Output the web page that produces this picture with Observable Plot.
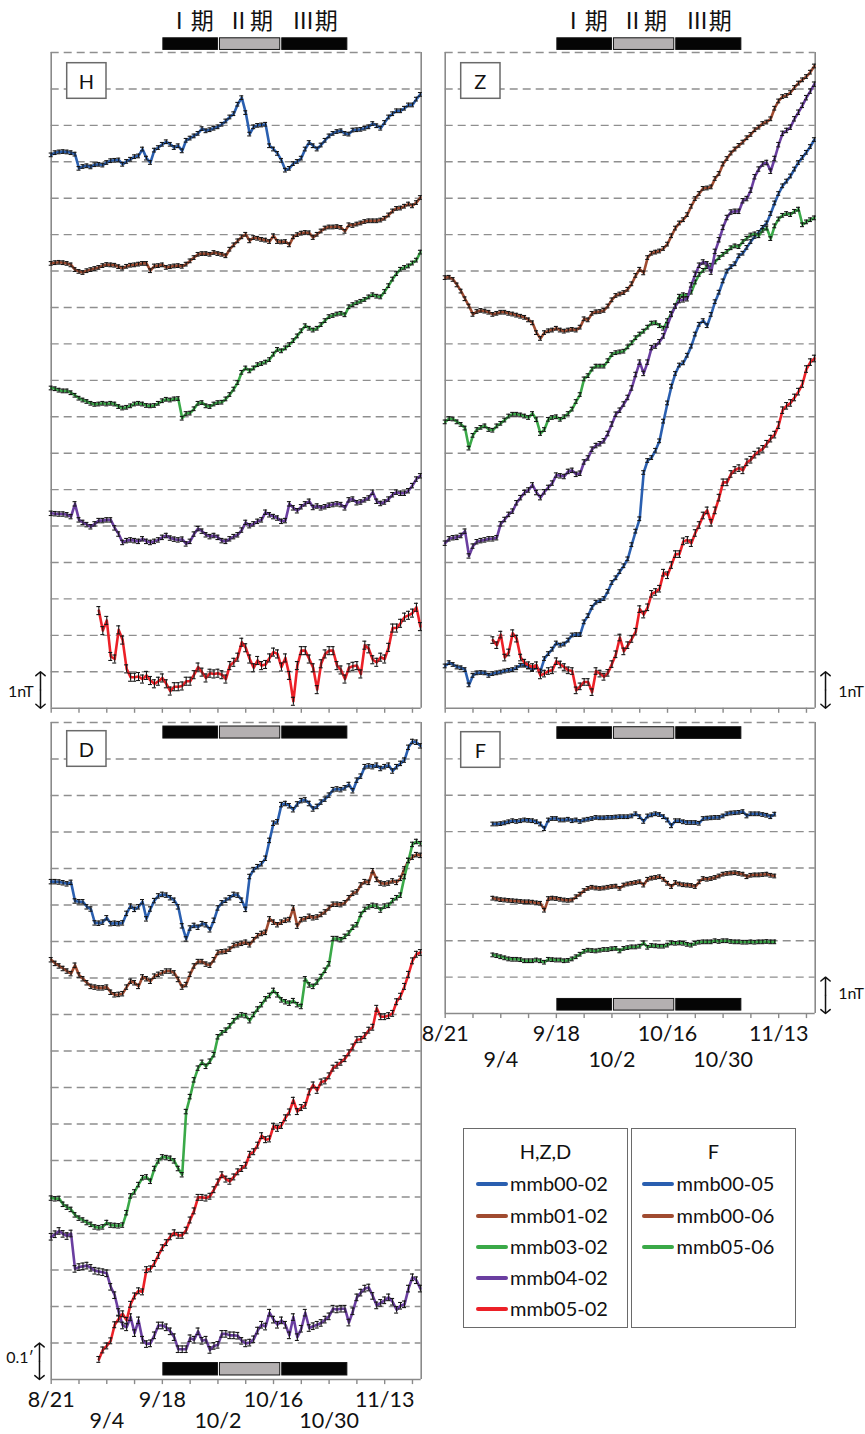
<!DOCTYPE html>
<html><head><meta charset="utf-8">
<script src="https://cdn.jsdelivr.net/npm/d3@7"></script>
<script src="https://cdn.jsdelivr.net/npm/@observablehq/plot@0.6"></script>
<style>
body{margin:0;background:#fff;}
#root{position:relative;width:865px;height:1434px;overflow:hidden;font-family:Lato,"Open Sans",sans-serif;background:#fff;}
.panel{position:absolute;}
.panel svg{overflow:visible;background:transparent;}
.legend{position:absolute;border:1.5px solid #6a6a6a;box-sizing:border-box;background:#fff;}
.legend .ttl{position:absolute;left:0;right:0;text-align:center;font-size:20px;color:#111;line-height:1;}
.legend .item{position:absolute;font-size:20px;color:#111;line-height:1;white-space:nowrap;}
.legend .sw{position:absolute;height:3.5px;width:32px;border-radius:2px;}
</style></head>
<body><div id="root"></div>
<script>
// ---------------- data ----------------
const tickDays = [0,7,14,21,28,35,42,49,56,63,70,77,84,91];
const labelRow1Days = [0,28,56,84];
const labelRow1 = ["8/21","9/18","10/16","11/13"];
const labelRow2Days = [14,42,70];
const labelRow2 = ["9/4","10/2","10/30"];
const namesHZD = ["mmb00-02","mmb01-02","mmb03-02","mmb04-02","mmb05-02"];
const namesF = ["mmb00-05","mmb00-06","mmb05-06"];
const colorsHZD = ["#2a5fb0","#a04b30","#3aa948","#6a3ea0","#ec2027"];
const colorsF = ["#2a5fb0","#a04b30","#3aa948"];
const periodNames = ["Ⅰ期","Ⅱ期","Ⅲ期"];
const periodStart = [28, 42.25, 57.95];
const periodEnd = [42.25, 57.95, 74.85];
const periodFill = ["#050505","#b4b0b1","#050505"];
const startHZD = [0,0,0,0,12];
const startF = [12,12,12];

const H_mmb00_02 = [15.19,15.25,15.27,15.28,15.27,15.25,15.21,14.82,14.87,14.89,
14.86,14.92,14.93,14.91,14.98,15.03,15.04,15.05,14.93,15.01,
15.07,15.14,15.16,15.35,15.10,14.98,15.32,15.39,15.48,15.55,
15.48,15.39,15.44,15.30,15.59,15.65,15.71,15.78,15.91,15.85,
15.88,15.92,15.96,16.03,16.12,16.23,16.32,16.58,16.76,16.35,
15.76,15.96,16.00,16.01,16.03,15.44,15.35,15.23,15.04,14.77,
14.82,14.95,15.01,15.10,15.35,15.53,15.44,15.35,15.46,15.59,
15.71,15.78,15.83,15.85,15.78,15.76,15.87,15.88,15.89,15.92,
15.96,16.05,15.99,15.92,16.08,16.23,16.32,16.40,16.40,16.47,
16.56,16.56,16.72,16.85];
const H_mmb01_02 = [12.21,12.23,12.24,12.23,12.21,12.17,12.04,11.99,11.96,12.01,
12.04,12.07,12.10,12.15,12.18,12.17,12.16,12.12,12.08,12.13,
12.16,12.17,12.19,12.21,12.21,12.01,12.14,12.15,12.17,12.10,
12.12,12.14,12.15,12.13,12.19,12.28,12.37,12.46,12.48,12.48,
12.46,12.51,12.48,12.46,12.42,12.60,12.72,12.83,12.94,13.01,
12.83,12.92,12.90,12.87,12.85,12.81,12.97,12.81,12.80,12.81,
12.72,12.94,13.00,13.04,13.06,13.05,12.92,13.01,13.10,13.18,
13.21,13.21,13.22,13.20,13.09,13.27,13.25,13.29,13.32,13.36,
13.38,13.38,13.38,13.40,13.45,13.54,13.65,13.72,13.73,13.78,
13.84,13.79,13.88,14.02];
const H_mmb03_02 = [8.79,8.77,8.73,8.71,8.71,8.66,8.59,8.51,8.46,8.42,
8.37,8.34,8.35,8.37,8.35,8.37,8.35,8.28,8.24,8.26,
8.30,8.35,8.37,8.35,8.31,8.30,8.31,8.37,8.44,8.48,
8.46,8.49,8.50,7.96,8.09,8.10,8.22,8.37,8.39,8.30,
8.28,8.35,8.39,8.40,8.49,8.61,8.76,8.94,9.22,9.34,
9.26,9.34,9.43,9.46,9.50,9.57,9.72,9.85,9.81,9.89,
9.98,10.09,10.22,10.36,10.50,10.43,10.38,10.43,10.53,10.64,
10.75,10.78,10.82,10.84,10.80,11.02,11.08,11.13,11.17,11.22,
11.29,11.35,11.31,11.29,11.44,11.60,11.78,11.93,12.05,12.10,
12.14,12.22,12.30,12.52];
const H_mmb04_02 = [5.35,5.34,5.33,5.33,5.31,5.26,5.61,5.17,5.10,5.04,
4.98,5.06,5.15,5.15,5.17,5.17,4.95,4.78,4.55,4.60,
4.62,4.60,4.58,4.65,4.58,4.55,4.58,4.62,4.69,4.74,
4.67,4.64,4.62,4.64,4.51,4.58,4.78,4.93,4.86,4.76,
4.71,4.74,4.69,4.60,4.58,4.65,4.71,4.76,4.89,5.10,
5.01,5.06,5.13,5.17,5.38,5.31,5.26,5.22,5.13,5.15,
5.61,5.50,5.42,5.53,5.61,5.68,5.51,5.55,5.50,5.53,
5.57,5.59,5.61,5.59,5.50,5.72,5.74,5.64,5.66,5.72,
5.77,5.93,5.68,5.62,5.66,5.74,5.86,5.93,5.90,5.90,
5.97,6.11,6.29,6.38];
const H_mmb05_02 = [2.68,2.13,2.41,1.42,1.35,2.15,1.87,1.08,0.85,0.85,
0.87,0.80,0.90,0.76,0.67,0.74,0.83,0.67,0.47,0.59,
0.59,0.61,0.74,0.74,0.92,1.13,0.99,0.83,0.96,0.94,
0.96,0.92,0.80,1.17,1.26,1.40,1.81,1.66,1.35,1.11,
1.31,1.17,1.20,1.38,1.54,1.49,1.13,1.38,0.90,0.19,
1.17,1.58,1.58,1.35,1.11,0.51,1.22,1.49,1.58,1.58,
1.17,1.05,0.80,1.11,1.15,1.17,0.94,1.73,1.63,1.33,
1.26,1.40,1.35,1.67,2.20,2.20,2.33,2.50,2.55,2.61,
2.77,2.24];

const Z_mmb00_02 = [1.16,1.25,1.20,1.13,1.11,1.06,0.64,0.90,0.97,0.98,
0.97,0.90,0.95,0.97,0.99,1.02,1.04,1.06,1.11,1.18,
1.18,1.13,1.06,1.13,1.02,1.36,1.50,1.62,1.79,1.73,
1.76,1.87,2.01,2.02,2.02,2.37,2.54,2.77,2.91,2.95,
3.01,3.21,3.45,3.58,3.75,3.91,4.10,4.49,4.86,5.20,
6.47,6.80,6.88,7.08,7.34,7.88,8.38,8.84,9.19,9.42,
9.48,9.69,9.94,10.27,10.54,10.64,10.50,10.81,11.16,11.42,
11.73,12.00,12.12,12.20,12.42,12.49,12.65,12.81,12.95,13.06,
13.20,13.32,13.58,13.87,14.13,14.34,14.47,14.61,14.80,14.98,
15.12,15.26,15.42,15.61];
const Z_mmb01_02 = [11.82,11.83,11.77,11.62,11.45,11.24,11.04,10.81,10.89,10.92,
10.90,10.87,10.81,10.84,10.87,10.87,10.84,10.82,10.79,10.76,
10.73,10.66,10.58,10.31,10.15,10.31,10.36,10.38,10.43,10.38,
10.35,10.38,10.40,10.38,10.46,10.69,10.66,10.84,10.88,10.89,
10.92,11.04,11.21,11.33,11.37,11.41,11.50,11.65,11.88,12.05,
11.95,12.37,12.49,12.52,12.55,12.62,12.74,12.97,13.18,13.32,
13.41,13.55,13.78,13.99,14.13,14.27,14.28,14.31,14.54,14.68,
14.94,15.09,15.24,15.35,15.45,15.54,15.66,15.75,15.88,15.95,
16.05,16.09,16.18,16.47,16.67,16.79,16.82,16.90,17.04,17.16,
17.25,17.34,17.46,17.63];
const Z_mmb03_02 = [7.86,7.95,7.94,7.86,7.79,7.69,7.14,7.49,7.65,7.71,
7.75,7.65,7.63,7.75,7.82,7.91,8.02,8.07,8.07,8.05,
8.02,7.98,8.09,7.92,7.54,7.65,7.93,7.98,8.00,7.93,
8.00,8.09,8.21,8.42,8.61,9.04,9.13,9.31,9.39,9.39,
9.39,9.54,9.71,9.76,9.78,9.80,9.92,10.03,10.17,10.27,
10.35,10.46,10.57,10.58,10.50,10.43,10.64,10.84,11.04,11.31,
11.35,11.33,11.42,11.70,11.91,12.02,12.12,12.16,12.25,12.37,
12.46,12.54,12.64,12.69,12.67,12.81,12.90,12.99,13.02,12.97,
13.12,13.18,12.89,13.24,13.43,13.53,13.58,13.55,13.64,13.70,
13.27,13.35,13.41,13.46];
const Z_mmb04_02 = [4.53,4.65,4.68,4.69,4.74,4.86,4.18,4.45,4.57,4.60,
4.62,4.65,4.65,4.68,5.06,5.18,5.32,5.41,5.64,5.78,
5.92,5.99,6.13,5.92,5.78,5.94,6.06,6.18,6.40,6.38,
6.36,6.50,6.53,6.42,6.45,6.76,6.87,7.11,7.21,7.26,
7.34,7.54,7.80,8.07,8.18,8.35,8.53,8.79,9.16,9.50,
9.19,9.50,9.90,9.94,10.06,10.22,10.52,10.81,11.04,11.19,
11.21,11.24,11.62,11.91,12.16,12.25,12.20,11.97,12.54,12.86,
13.20,13.47,13.62,13.64,13.64,13.93,13.99,14.22,14.59,14.80,
14.94,14.98,14.74,15.09,15.47,15.78,15.86,15.95,16.18,16.36,
16.55,16.76,16.94,17.13];
const Z_mmb05_02 = [1.87,1.73,2.02,1.39,1.53,2.06,1.91,1.39,1.25,1.18,
1.13,1.18,0.90,0.95,1.02,1.04,1.29,1.20,1.13,1.04,
1.02,0.49,0.60,0.72,0.72,0.44,1.02,0.95,0.86,0.97,
1.21,1.48,1.94,1.56,1.73,1.90,2.10,2.72,2.57,2.77,
3.14,3.19,3.28,3.72,3.65,3.93,4.23,4.23,4.58,4.62,
4.53,4.81,5.03,5.29,5.43,5.09,5.43,5.78,6.20,6.20,
6.43,6.54,6.59,6.53,6.75,6.82,6.96,7.05,7.12,7.26,
7.40,7.51,7.77,8.18,8.30,8.38,8.53,8.69,8.90,9.31,
9.50,9.60];

const D_mmb00_02 = [13.64,13.64,13.63,13.61,13.58,13.62,13.11,13.09,13.09,12.95,
12.89,12.51,12.50,12.53,12.65,12.49,12.50,12.49,12.51,12.77,
12.97,12.88,12.95,13.09,12.62,12.89,13.12,13.25,13.29,13.27,
13.20,13.13,12.95,12.43,12.07,12.37,12.44,12.39,12.49,12.46,
12.32,12.58,12.92,13.06,13.13,13.20,13.29,13.27,13.13,12.88,
13.78,13.97,14.05,14.13,14.28,14.77,15.24,15.28,15.75,15.78,
15.72,15.61,15.77,15.86,15.88,15.78,15.63,15.70,15.82,15.90,
16.01,16.16,16.18,16.16,16.21,16.30,16.13,16.42,16.53,16.79,
16.81,16.79,16.83,16.74,16.79,16.83,16.67,16.79,16.88,16.97,
17.32,17.48,17.46,17.36];
const D_mmb01_02 = [11.50,11.40,11.33,11.26,11.19,11.12,11.35,11.08,10.98,10.87,
10.77,10.75,10.73,10.73,10.75,10.61,10.54,10.55,10.57,10.75,
10.91,10.87,10.77,11.03,10.98,10.91,11.05,11.10,11.14,11.19,
11.19,11.14,10.96,10.75,10.82,11.10,11.33,11.45,11.45,11.38,
11.35,11.50,11.70,11.72,11.73,11.79,11.89,11.91,11.95,11.98,
11.91,12.05,12.16,12.22,12.25,12.62,12.53,12.46,12.53,12.58,
12.60,12.92,12.42,12.60,12.62,12.69,12.65,12.67,12.74,12.81,
12.92,13.02,13.02,13.01,13.06,13.20,13.32,13.36,13.55,13.64,
13.62,13.94,13.70,13.60,13.58,13.60,13.66,13.62,13.73,13.99,
14.22,14.31,14.38,14.36];
const D_mmb03_02 = [4.97,4.95,4.96,4.80,4.72,4.66,4.51,4.42,4.37,4.30,
4.25,4.18,4.16,4.18,4.30,4.23,4.22,4.21,4.23,4.57,
5.03,5.14,5.34,5.53,5.55,5.43,5.78,5.99,6.10,6.08,
6.06,5.99,5.78,5.61,7.34,7.75,8.21,8.53,8.69,8.58,
8.72,8.90,9.39,9.50,9.57,9.69,9.83,9.94,9.99,9.97,
9.83,10.00,10.15,10.27,10.43,10.52,10.66,10.54,10.40,10.35,
10.31,10.38,10.27,10.22,10.98,10.81,10.77,10.89,11.04,11.21,
11.39,12.08,12.08,12.05,12.14,12.23,12.39,12.46,12.74,12.88,
12.95,12.99,12.97,12.86,12.97,12.99,13.12,13.20,13.27,13.78,
14.22,14.66,14.74,14.68];
const D_mmb04_02 = [3.91,3.98,4.07,3.99,3.93,4.00,3.03,3.08,3.10,3.12,
3.06,2.98,2.96,2.94,2.91,2.54,2.31,1.85,1.48,1.43,
1.71,1.27,1.62,1.09,0.97,0.99,1.21,1.48,1.48,1.43,
1.32,1.16,0.83,0.83,0.83,1.13,1.09,1.32,1.06,1.09,
0.81,0.92,0.95,1.25,1.25,1.21,1.21,1.20,1.06,0.99,
1.01,1.10,1.34,1.50,1.45,1.83,1.64,1.50,1.62,1.50,
1.21,1.71,1.16,1.39,1.83,1.41,1.46,1.50,1.55,1.64,
1.73,1.94,1.92,1.94,1.94,1.56,1.87,2.25,2.38,2.49,
2.52,2.29,2.03,2.10,2.17,2.25,2.13,1.91,2.02,2.06,
2.49,2.80,2.72,2.49];
const D_mmb05_02 = [0.55,0.81,0.92,1.06,1.50,1.66,1.80,1.62,2.06,2.29,
2.43,2.40,3.01,3.03,3.18,3.40,3.61,3.75,3.91,4.02,
3.95,3.95,4.09,4.37,4.62,4.99,4.99,4.97,5.02,5.20,
5.41,5.61,5.49,5.43,5.55,5.69,5.78,5.87,6.17,6.24,
6.42,6.68,6.57,6.59,6.94,6.88,6.96,7.17,7.33,7.65,
7.34,7.45,7.51,7.88,8.07,7.92,8.15,8.18,8.32,8.53,
8.61,8.69,8.79,8.95,9.11,9.31,9.32,9.42,9.57,9.65,
10.17,9.94,9.94,9.97,10.03,10.35,10.50,10.77,11.10,11.47,
11.65,11.70];

const F_mmb00_05 = [5.21,5.21,5.22,5.24,5.27,5.30,5.28,5.30,5.32,5.31,
5.30,5.27,5.21,5.08,5.32,5.36,5.36,5.32,5.32,5.34,
5.30,5.32,5.28,5.32,5.34,5.36,5.39,5.38,5.38,5.39,
5.39,5.40,5.41,5.41,5.41,5.43,5.49,5.41,5.28,5.43,
5.46,5.49,5.47,5.41,5.32,5.16,5.30,5.30,5.27,5.25,
5.25,5.25,5.23,5.36,5.37,5.38,5.39,5.39,5.43,5.49,
5.51,5.52,5.53,5.55,5.43,5.49,5.49,5.49,5.47,5.45,
5.41,5.48];
const F_mmb00_06 = [3.17,3.15,3.13,3.12,3.11,3.10,3.09,3.08,3.07,3.07,
3.06,3.04,3.03,2.84,3.16,3.17,3.16,3.14,3.12,3.11,
3.12,3.21,3.28,3.38,3.44,3.47,3.45,3.44,3.45,3.47,
3.49,3.50,3.44,3.53,3.56,3.58,3.60,3.62,3.53,3.69,
3.72,3.74,3.76,3.69,3.58,3.49,3.60,3.56,3.54,3.53,
3.52,3.49,3.62,3.71,3.69,3.71,3.74,3.78,3.83,3.85,
3.86,3.87,3.85,3.83,3.76,3.80,3.81,3.81,3.82,3.83,
3.80,3.78];
const F_mmb05_06 = [1.61,1.59,1.56,1.53,1.50,1.49,1.49,1.48,1.45,1.45,
1.45,1.47,1.45,1.41,1.49,1.48,1.47,1.47,1.45,1.46,
1.50,1.56,1.63,1.71,1.74,1.73,1.72,1.74,1.76,1.76,
1.78,1.79,1.72,1.79,1.81,1.83,1.83,1.85,1.94,1.82,
1.87,1.86,1.85,1.85,1.88,1.94,1.93,1.94,1.93,1.90,
1.88,1.93,1.96,1.97,1.97,1.97,2.00,1.98,2.00,2.00,
1.98,1.97,1.97,1.96,1.96,1.97,1.96,1.97,1.97,1.98,
1.97,1.97];

// typical half-width of the error bars, per series
const H_err = [0.05,0.05,0.05,0.06,0.11];
const Z_err = [0.05,0.05,0.05,0.06,0.09];
const D_err = [0.06,0.06,0.06,0.09,0.08];
const F_err = [0.05,0.05,0.05];

// ---------------- drawing ----------------
const X_MAX = 93.2;
const root = document.getElementById("root");
const FRAME = "#8a8a8a";

function rowsOf(values, start, err) {
  return values.map((v, i) => ({day: start + i, v, lo: v - err, hi: v + err}));
}
function seriesMarks(values, start, color, err) {
  const rows = rowsOf(values, start, err);
  const eb = {stroke: "#161616", strokeWidth: 1.1};
  return [
    Plot.line(rows, {x: "day", y: "v", stroke: color, strokeWidth: 2.6, strokeLinejoin: "round"}),
    Plot.ruleX(rows, {x: "day", y1: "lo", y2: "hi", ...eb}),
    Plot.ruleY(rows, {y: "lo", x1: d => d.day - 0.5, x2: d => d.day + 0.5, ...eb}),
    Plot.ruleY(rows, {y: "hi", x1: d => d.day - 0.5, x2: d => d.day + 0.5, ...eb})
  ];
}
function periodBars(y1, y2) {
  const idx = [0, 1, 2];
  return Plot.rect(idx, {x1: i => periodStart[i], x2: i => periodEnd[i], y1: () => y1, y2: () => y2,
    fill: i => periodFill[i], stroke: "#111", strokeWidth: 1, insetLeft: 1, insetRight: 1});
}

function makePanel(cfg) {
  const marks = [];
  marks.push(Plot.ruleY(d3.range(1, cfg.yMax + 1), {stroke: "#8f8f8f", strokeWidth: 1.4, strokeDasharray: "8,5"}));
  marks.push(Plot.ruleX([0, X_MAX], {y1: 0, y2: cfg.yMax, stroke: FRAME, strokeWidth: 1.6}));
  marks.push(Plot.ruleY([0], {stroke: FRAME, strokeWidth: 1.6}));
  marks.push(Plot.ruleX(tickDays, {y1: 0, y2: -0.14, stroke: FRAME, strokeWidth: 1.4}));
  cfg.series.forEach((s, i) => marks.push(...seriesMarks(s, cfg.starts[i], cfg.colors[i], cfg.errs[i])));
  cfg.bars.forEach(b => marks.push(periodBars(b[0], b[1])));
  if (cfg.periodTextY != null) {
    marks.push(Plot.text([0, 1, 2], {x: i => (periodStart[i] + periodEnd[i]) / 2, y: () => cfg.periodTextY,
      text: i => periodNames[i], fontSize: 23, fontFamily: "Noto Sans CJK JP", fill: "#111"}));
  }
  if (cfg.xLabels) {
    marks.push(Plot.text(labelRow1Days, {x: d => d, y: () => cfg.xLabels[0], text: (d, i) => labelRow1[i],
      fontSize: 21.5, fontFamily: "Lato", fill: "#111"}));
    marks.push(Plot.text(labelRow2Days, {x: d => d, y: () => cfg.xLabels[1], text: (d, i) => labelRow2[i],
      fontSize: 21.5, fontFamily: "Lato", fill: "#111"}));
  }
  // scale arrow
  const sc = cfg.scale;
  const arr = {headAngle: 100, headLength: 7, stroke: "#111", strokeWidth: 1.5};
  marks.push(Plot.arrow([sc], {x1: d => d.x, x2: d => d.x, y1: () => 0.5, y2: () => 1, ...arr}));
  marks.push(Plot.arrow([sc], {x1: d => d.x, x2: d => d.x, y1: () => 0.5, y2: () => 0, ...arr}));
  marks.push(Plot.text([sc], {x: d => d.tx, y: d => d.ty, text: d => d.text, textAnchor: sc.anchor,
    fontSize: 16, fontFamily: "Lato", fill: "#111"}));

  const chart = Plot.plot({
    width: cfg.w, height: cfg.h,
    marginLeft: cfg.ml, marginRight: cfg.mr, marginTop: cfg.mt, marginBottom: cfg.mb,
    x: {domain: [0, X_MAX], axis: null},
    y: {domain: [0, cfg.yMax], axis: null},
    style: {background: "transparent", overflow: "visible", fontFamily: "Lato"},
    marks
  });
  // panel letter box
  const svg = d3.select(chart);
  const g = svg.append("g");
  g.append("rect").attr("x", cfg.ml + 16).attr("y", cfg.mt + cfg.boxDy).attr("width", 39.3).attr("height", 35.6)
    .attr("fill", "#fff").attr("stroke", "#6a6a6a").attr("stroke-width", 1.5);
  g.append("text").attr("x", cfg.ml + 16 + 19.6).attr("y", cfg.mt + cfg.boxDy + 18.5)
    .attr("text-anchor", "middle").attr("dominant-baseline", "central")
    .attr("font-family", "Lato").attr("font-size", 20).attr("fill", "#111").text(cfg.label);

  const div = document.createElement("div");
  div.className = "panel";
  div.style.left = cfg.left + "px";
  div.style.top = cfg.top + "px";
  div.appendChild(chart);
  root.appendChild(div);
}

makePanel({label: "H", left: 0, top: 0, w: 432, h: 716, ml: 50.7, mr: 11.3, mt: 52, mb: 8.3, yMax: 18, boxDy: 10.7,
  series: [H_mmb00_02, H_mmb01_02, H_mmb03_02, H_mmb04_02, H_mmb05_02], starts: startHZD, colors: colorsHZD, errs: H_err,
  bars: [[18.07, 18.39]], periodTextY: 18.84,
  scale: {x: -2.7, tx: -4.4, ty: 0.45, text: "1nT", anchor: "end"}});
makePanel({label: "Z", left: 432, top: 0, w: 433, h: 716, ml: 12.7, mr: 50.3, mt: 52, mb: 8.3, yMax: 18, boxDy: 10.7,
  series: [Z_mmb00_02, Z_mmb01_02, Z_mmb03_02, Z_mmb04_02, Z_mmb05_02], starts: startHZD, colors: colorsHZD, errs: Z_err,
  bars: [[18.07, 18.39]], periodTextY: 18.84,
  scale: {x: 95.8, tx: 99.0, ty: 0.45, text: "1nT", anchor: "start"}});
makePanel({label: "D", left: 0, top: 716, w: 432, h: 718, ml: 50.7, mr: 11.3, mt: 6, mb: 55, yMax: 18, boxDy: 8.7,
  series: [D_mmb00_02, D_mmb01_02, D_mmb03_02, D_mmb04_02, D_mmb05_02], starts: startHZD, colors: colorsHZD, errs: D_err,
  bars: [[17.56, 17.89], [0.11, 0.45]], xLabels: [-0.575, -1.13],
  scale: {x: -2.95, tx: -4.4, ty: 0.6, text: "0.1′", anchor: "end"}});
makePanel({label: "F", left: 432, top: 716, w: 433, h: 362, ml: 12.7, mr: 50.3, mt: 6, mb: 65, yMax: 8, boxDy: 9.7,
  series: [F_mmb00_05, F_mmb00_06, F_mmb05_06], starts: startF, colors: colorsF, errs: F_err,
  bars: [[7.55, 7.87], [0.08, 0.40]], xLabels: [-0.577, -1.27],
  scale: {x: 95.8, tx: 99.0, ty: 0.55, text: "1nT", anchor: "start"}});

// ---------------- legend ----------------
function legendBox(left, title, names, colors, swLeft, textLeft) {
  const box = document.createElement("div");
  box.className = "legend";
  box.style.left = left + "px"; box.style.top = "1128px";
  box.style.width = "165px"; box.style.height = "200px";
  const t = document.createElement("div");
  t.className = "ttl"; t.style.top = "12px"; t.textContent = title;
  box.appendChild(t);
  const rowsY = [55, 87, 118, 149, 180];
  names.forEach((n, i) => {
    const sw = document.createElement("div");
    sw.className = "sw"; sw.style.left = swLeft + "px"; sw.style.top = (rowsY[i] - 2) + "px";
    sw.style.background = colors[i];
    box.appendChild(sw);
    const it = document.createElement("div");
    it.className = "item"; it.style.left = textLeft + "px"; it.style.top = (rowsY[i] - 11) + "px";
    it.textContent = n;
    box.appendChild(it);
  });
  root.appendChild(box);
}
legendBox(463, "H,Z,D", namesHZD, colorsHZD, 11.5, 46);
legendBox(631, "F", namesF, colorsF, 9.5, 44.5);
</script>
</body></html>
